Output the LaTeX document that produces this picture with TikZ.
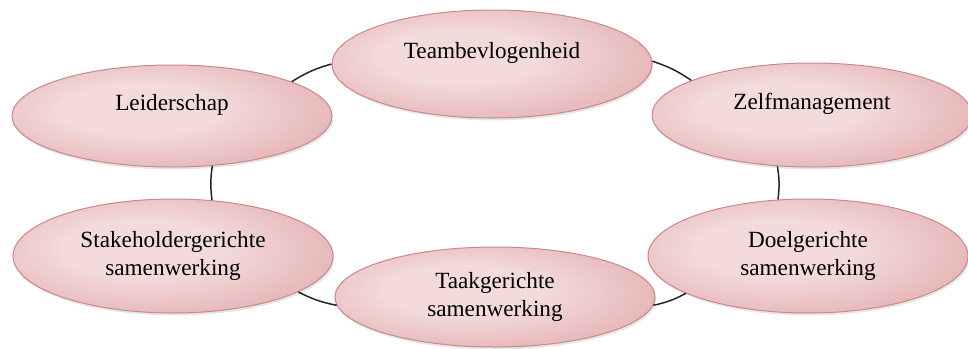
\documentclass[tikz,border=0pt]{standalone}
\usepackage{fontspec}
\setmainfont{Liberation Serif}
\usetikzlibrary{shapes.geometric, shadows}

\definecolor{pinkin}{RGB}{243,219,220}
\definecolor{pinkmid}{RGB}{230,182,183}
\definecolor{pinkout}{RGB}{210,140,141}
\definecolor{pinkline}{RGB}{205,135,136}
\pgfdeclareradialshading{pinkglow}{\pgfpoint{-6bp}{4bp}}{color(0bp)=(pinkin); color(12bp)=(pinkin); color(30bp)=(pinkmid); color(46bp)=(pinkout); color(70bp)=(pinkout)}

\tikzset{
  blob/.style={ellipse, shading=pinkglow, draw=pinkline, line width=0.5pt,
    minimum width=160pt, minimum height=53pt, inner sep=0pt, align=center,
    font=\fontsize{11.6}{14}\selectfont,
    drop shadow={opacity=0.2, shadow xshift=0.6pt, shadow yshift=-1.2pt}},
  oneline/.style={text height=8pt, text depth=14pt},
  link/.style={black!85, line width=0.75pt, bend left=8}
}

\begin{document}
\begin{tikzpicture}[x=0.5pt, y=-0.5pt]
                \useasboundingbox (0,0) rectangle (968,348);
                \node[blob, oneline, minimum height=54pt] (team) at (492,64) {Teambevlogenheid};
                \node[blob, oneline, minimum height=51pt] (lead) at (172,116) {Leiderschap};
                \node[blob, oneline, minimum height=52pt] (zelf) at (812,115) {Zelfmanagement};
                \node[blob, minimum height=57pt] (stake) at (173,256) {Stakeholdergerichte\\samenwerking};
                \node[blob, minimum height=50pt] (taak) at (495,297) {Taakgerichte\\samenwerking};
                \node[blob, minimum height=57pt] (doel) at (808,256) {Doelgerichte\\samenwerking};
                \foreach \from/\to/\sa/\sb in {lead/team/16/180, team/zelf/1/164, zelf/doel/-124/118,
                    doel/taak/197/-3, taak/stake/183/-16, stake/lead/55/-51}
                  \draw[link] (\from.\sa) to (\to.\sb);
            \end{tikzpicture}
\end{document}
